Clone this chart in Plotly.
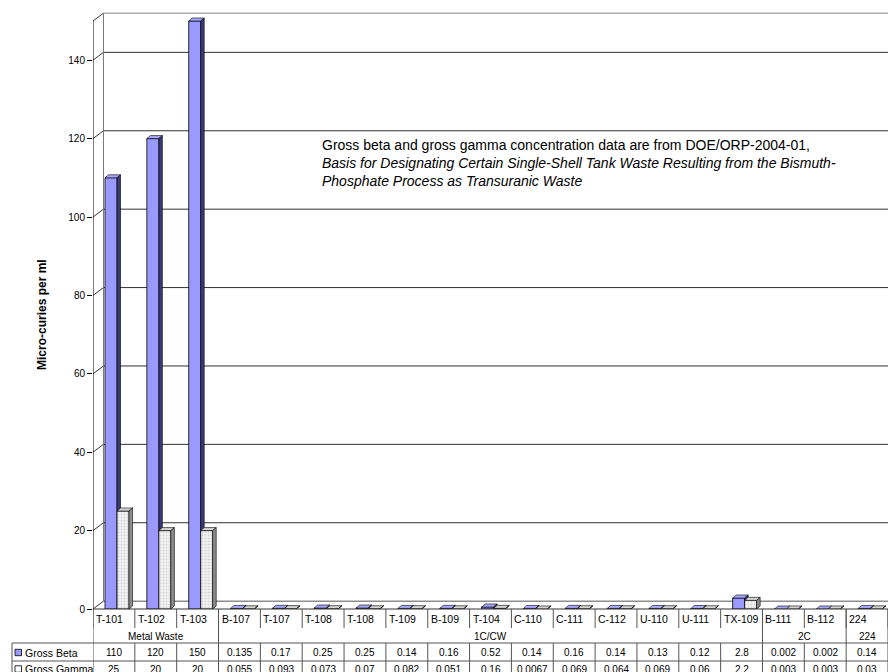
import plotly.graph_objects as go

# ---------------- data ----------------
tanks = ["T-101", "T-102", "T-103", "B-107", "T-107", "T-108", "T-108", "T-109", "B-109",
         "T-104", "C-110", "C-111", "C-112", "U-110", "U-111", "TX-109", "B-111", "B-112", "224"]
gross_beta = [110, 120, 150, 0.135, 0.17, 0.25, 0.25, 0.14, 0.16, 0.52, 0.14, 0.16, 0.14,
              0.13, 0.12, 2.8, 0.002, 0.002, 0.14]
gross_gamma = [25, 20, 20, 0.055, 0.093, 0.073, 0.07, 0.082, 0.051, 0.16, 0.0067, 0.069,
               0.064, 0.069, 0.06, 2.2, 0.003, 0.003, 0.03]
beta_labels = ["110", "120", "150", "0.135", "0.17", "0.25", "0.25", "0.14", "0.16", "0.52",
               "0.14", "0.16", "0.14", "0.13", "0.12", "2.8", "0.002", "0.002", "0.14"]
gamma_labels = ["25", "20", "20", "0.055", "0.093", "0.073", "0.07", "0.082", "0.051", "0.16",
                "0.0067", "0.069", "0.064", "0.069", "0.06", "2.2", "0.003", "0.003", "0.03"]
groups = ["Metal Waste", "1C/CW", "2C", "224"]
group_sizes = [3, 13, 2, 1]
y_ticks = [0, 20, 40, 60, 80, 100, 120, 140]
series_names = ["Gross Beta", "Gross Gamma"]

# ---------------- styling / geometry ----------------
FONT = "Arial, Liberation Sans, sans-serif"
W, H = 888, 672
ML, MT, MB = 93, 12, 63
PH = H - MT - MB  # plot height in px
N = len(tanks)
YMAX = 152.3
WDX, WDY = 0.25, 2.0       # wall depth offsets (data units)
BDX, BDY = 0.084, 0.77     # bar depth offsets
BW = 0.287
BETA_OFF, GAMMA_OFF = -0.213, 0.074
BETA_C, BETA_SIDE, BETA_TOP = "#9999FF", "#3A3A78", "#A8A8FF"
GAM_C, GAM_SIDE, GAM_TOP = "#EDEDED", "#8E8E8E", "#D4D4D4"


def pyp(p):  # pixel row -> paper y
    return (H - MB - p) / PH


def pxp(p):  # pixel column -> paper x
    return (p - ML) / (W - ML)


x_idx = list(range(N))
fig = go.Figure()
fig.add_trace(go.Bar(x=x_idx, y=gross_beta, offset=BETA_OFF, width=BW, name=series_names[0],
                     marker=dict(color=BETA_C, line=dict(color="#000000", width=0.8)),
                     showlegend=False, hoverinfo="y"))
fig.add_trace(go.Bar(x=x_idx, y=gross_gamma, offset=GAMMA_OFF, width=BW, name=series_names[1],
                     marker=dict(color=GAM_C, line=dict(color="#000000", width=0.8),
                                 pattern=dict(shape=".", fgcolor="#B8B8B8", bgcolor="#F2F2F2",
                                              size=3, solidity=0.35)),
                     showlegend=False, hoverinfo="y"))

shapes = []


def poly(pts, fill, layer="above", lw=0.6, lc="#000000"):
    path = "M " + " L ".join(f"{x},{y}" for x, y in pts) + " Z"
    shapes.append(dict(type="path", xref="x", yref="y", path=path, fillcolor=fill,
                       line=dict(color=lc, width=lw), layer=layer))


def line(x0, y0, x1, y1, color="#333333", width=1, layer="below", xref="x", yref="y"):
    shapes.append(dict(type="line", xref=xref, yref=yref, x0=x0, y0=y0, x1=x1, y1=y1,
                       line=dict(color=color, width=width), layer=layer))


# back wall & floor
XR = N - 0.5 + 0.5
line(-0.5 + WDX, WDY, XR, WDY, color="#555555")
for v in y_ticks[1:]:
    line(-0.5 + WDX, v + WDY, XR, v + WDY, color="#333333")
for v in y_ticks + [150]:
    line(-0.5, v, -0.5 + WDX, v + WDY, color="#333333")
line(-0.5 + WDX, WDY, -0.5 + WDX, 150 + WDY, color="#777777")
line(-0.5 + WDX, 150 + WDY, XR, 150 + WDY, color="#888888")
line(-0.5, 0, -0.5, 150, color="#000000")

# 3D faces for bars
for i in range(N):
    b, g = gross_beta[i], gross_gamma[i]
    bl, br = i + BETA_OFF, i + BETA_OFF + BW
    gl, gr = i + GAMMA_OFF, i + GAMMA_OFF + BW
    poly([(bl, b), (br, b), (br + BDX, b + BDY), (bl + BDX, b + BDY)], BETA_TOP)
    if b > g:
        poly([(br, g), (br + BDX, g + BDY), (br + BDX, b + BDY), (br, b)], BETA_SIDE)
    poly([(gl, g), (gr, g), (gr + BDX, g + BDY), (gl + BDX, g + BDY)], GAM_TOP)
    poly([(gr, 0), (gr + BDX, BDY), (gr + BDX, g + BDY), (gr, g)], GAM_SIDE)

# ---------------- data table ----------------
TT = H - MB          # table top pixel (609)
R1 = 628             # end of category-name separators
R2 = 643             # group row bottom
R3 = 661             # beta row bottom
R4 = 690             # gamma row bottom (clipped by page)
TC = "#555555"

line(-0.5, pyp(TT), N - 0.5, pyp(TT), color="#333333", yref="paper", layer="above")
for i in range(N + 1):
    line(i - 0.5, pyp(TT), i - 0.5, pyp(R1), color=TC, yref="paper", layer="above")
edges = [0]
for s in group_sizes:
    edges.append(edges[-1] + s)
for e in edges:
    line(e - 0.5, pyp(TT), e - 0.5, pyp(R2), color=TC, yref="paper", layer="above")
for i in range(N + 1):
    line(i - 0.5, pyp(R2), i - 0.5, pyp(R4), color=TC, yref="paper", layer="above")
for r in (R2, R3):
    line(pxp(12), pyp(r), pxp(W), pyp(r), color=TC, xref="paper", yref="paper", layer="above")
line(pxp(12), pyp(R2), pxp(12), pyp(R4), color=TC, xref="paper", yref="paper", layer="above")

BETA_Y, GAMMA_Y = 652.5, 669

annotations = []
for i, t in enumerate(tanks):
    annotations.append(dict(x=i - 0.5, y=pyp(619), xref="x", yref="paper", text=t,
                            showarrow=False, xanchor="left", xshift=1, yanchor="middle",
                            font=dict(family=FONT, size=10.5, color="#000000")))
    annotations.append(dict(x=i, y=pyp(BETA_Y), xref="x", yref="paper", text=beta_labels[i],
                            showarrow=False, xanchor="center", yanchor="middle",
                            font=dict(family=FONT, size=10, color="#000000")))
    annotations.append(dict(x=i, y=pyp(GAMMA_Y), xref="x", yref="paper", text=gamma_labels[i],
                            showarrow=False, xanchor="center", yanchor="middle",
                            font=dict(family=FONT, size=10, color="#000000")))
for k, gname in enumerate(groups):
    c = (edges[k] + edges[k + 1] - 1) / 2
    annotations.append(dict(x=c, y=pyp(636), xref="x", yref="paper", text=gname,
                            showarrow=False, xanchor="center", yanchor="middle",
                            font=dict(family=FONT, size=10, color="#000000")))

for name, col, yc in ((series_names[0], BETA_C, BETA_Y), (series_names[1], "#FFFFFF", GAMMA_Y)):
    shapes.append(dict(type="rect", xref="paper", yref="paper", x0=pxp(15), x1=pxp(21.5),
                       y0=pyp(yc - 3.2), y1=pyp(yc + 3.2), fillcolor=col,
                       line=dict(color="#000000", width=0.8), layer="above"))
    annotations.append(dict(x=pxp(23), y=pyp(yc), xref="paper", yref="paper", text=name,
                            showarrow=False, xanchor="left", yanchor="middle",
                            font=dict(family=FONT, size=10.5, color="#000000")))

# y-axis title
annotations.append(dict(x=pxp(42), y=pyp(315), xref="paper", yref="paper",
                        text="<b>Micro-curies per ml</b>", textangle=-90, showarrow=False,
                        xanchor="center", yanchor="middle",
                        font=dict(family=FONT, size=12, color="#000000")))

# note text
note_lines = ["Gross beta and gross gamma concentration data are from DOE/ORP-2004-01,",
              "<i>Basis for Designating Certain Single-Shell Tank Waste Resulting from the Bismuth-</i>",
              "<i>Phosphate Process as Transuranic Waste</i>"]
for k, t in enumerate(note_lines):
    annotations.append(dict(x=pxp(320), y=pyp(145 + 17.8 * k), xref="paper", yref="paper",
                            text=t, showarrow=False, xanchor="left", yanchor="middle",
                            font=dict(family=FONT, size=14, color="#000000")))

fig.update_layout(
    width=W, height=H,
    margin=dict(l=ML, r=0, t=MT, b=MB, pad=0),
    paper_bgcolor="#FFFFFF", plot_bgcolor="#FFFFFF",
    barmode="overlay", showlegend=False,
    font=dict(family=FONT, size=10, color="#000000"),
    xaxis=dict(range=[-0.5, N - 0.5], showticklabels=False, ticks="", showgrid=False,
               zeroline=False, showline=False, fixedrange=True),
    yaxis=dict(range=[0, YMAX], tickvals=y_ticks, ticks="outside", ticklen=5,
               tickcolor="#000000", tickwidth=1, showgrid=False, zeroline=False,
               showline=False, tickfont=dict(family=FONT, size=10, color="#000000"),
               fixedrange=True),
    shapes=shapes,
    annotations=annotations,
)

fig.write_html("out.html")
